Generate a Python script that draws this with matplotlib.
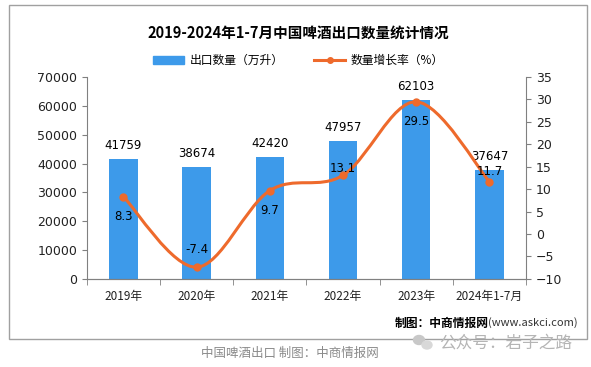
import matplotlib.pyplot as plt
from matplotlib.path import Path
from matplotlib.patches import PathPatch, Rectangle, Ellipse
from matplotlib.lines import Line2D

plt.rcParams['font.family'] = ['Noto Sans CJK SC', 'DejaVu Sans']

# 数据
years = ['2019年', '2020年', '2021年', '2022年', '2023年', '2024年1-7月']
volume = [41759, 38674, 42420, 47957, 62103, 37647]
growth = [8.3, -7.4, 9.7, 13.1, 29.5, 11.7]
# 增长率标签相对点的偏移 (像素, 正数向下)
label_shift = [20, -18, 20, -7, 20, -10]

bar_color = '#3D9AEA'
line_color = '#EE6A2C'
axis_color = '#808080'

fig = plt.figure(figsize=(5.91, 3.67), dpi=100)
ax = fig.add_axes([0.147, 0.240, 0.743, 0.550])
ax2 = ax.twinx()

x = list(range(len(years)))
ax.bar(x, volume, width=0.39, color=bar_color, zorder=2)
for xi, v in zip(x, volume):
    ax.annotate(str(v), (xi, v), xytext=(0, 5), textcoords='offset points',
                ha='center', va='bottom', fontsize=8.5, family='DejaVu Sans')

ax.set_xlim(-0.5, len(years) - 0.5)
ax.set_ylim(0, 70000)
ax.set_yticks(range(0, 70001, 10000))
ax2.set_ylim(-10, 35)
ax2.set_yticks(range(-10, 36, 5))

# 平滑曲线 (Catmull-Rom -> bezier)
pts = list(zip(x, growth))
verts = [pts[0]]
codes = [Path.MOVETO]
for i in range(len(pts) - 1):
    p0 = pts[i - 1] if i > 0 else pts[i]
    p1 = pts[i]
    p2 = pts[i + 1]
    p3 = pts[i + 2] if i + 2 < len(pts) else pts[i + 1]
    c1 = (p1[0] + (p2[0] - p0[0]) / 6, p1[1] + (p2[1] - p0[1]) / 6)
    c2 = (p2[0] - (p3[0] - p1[0]) / 6, p2[1] - (p3[1] - p1[1]) / 6)
    verts += [c1, c2, p2]
    codes += [Path.CURVE4] * 3
ax2.add_patch(PathPatch(Path(verts, codes), facecolor='none',
                        edgecolor=line_color, lw=2.2, zorder=3))
ax2.plot(x, growth, 'o', color=line_color, ms=5, zorder=4)
for xi, g, d in zip(x, growth, label_shift):
    ax2.annotate(f'{g:.1f}', (xi, g), xytext=(0, -d * 0.72), textcoords='offset points',
                 ha='center', va='center', fontsize=8.5, family='DejaVu Sans', zorder=5)

# 坐标轴样式
for a in (ax, ax2):
    a.spines['top'].set_visible(False)
    for s in ('left', 'right', 'bottom'):
        a.spines[s].set_color(axis_color)
    a.tick_params(colors=axis_color, labelcolor='#222222', labelsize=9)
ax.spines['right'].set_visible(False)
ax2.spines['left'].set_visible(False)
ax.set_xticks(x)
ax.set_xticklabels(years, fontsize=8.5)
ax.tick_params(axis='x', length=0, pad=8)
ax.set_xticks([i - 0.5 for i in range(len(years) + 1)], minor=True)
ax.tick_params(axis='x', which='minor', length=4, color=axis_color)
for lab in ax.get_yticklabels() + ax2.get_yticklabels():
    lab.set_family('DejaVu Sans')

# 标题与图例
fig.text(0.505, 0.912, '2019-2024年1-7月中国啤酒出口数量统计情况',
         ha='center', va='center', fontsize=10.5, fontweight='bold')
handles = [Rectangle((0, 0), 1, 1, color=bar_color),
           Line2D([0], [0], color=line_color, lw=2.2, marker='o', ms=4)]
fig.legend(handles, ['出口数量（万升）', '数量增长率（%）'], loc='center',
           bbox_to_anchor=(0.505, 0.835), ncol=2, frameon=False, fontsize=8.5,
           handlelength=2.6, columnspacing=2.6, handletextpad=0.5)

url = fig.text(0.978, 0.12, '(www.askci.com)', ha='right', va='center',
               fontsize=8, color='#333333')
ax.annotate('制图：中商情报网', xy=(0, 0.5), xycoords=url, ha='right', va='center',
            fontsize=8.5, fontweight='bold', annotation_clip=False)

# 外框
fig.add_artist(Rectangle((9 / 591, 1 - 339 / 367), 578 / 591, 334 / 367,
                         transform=fig.transFigure, fill=False,
                         edgecolor='#A0A0A0', lw=1))

fig.text(0.49, 0.038, '中国啤酒出口 制图：中商情报网', ha='center', va='center',
         fontsize=9, color='#8A8A8A')
# 公众号水印
fig.add_artist(Ellipse((419 / 591, 1 - 340 / 367), 11 / 591, 9 / 367,
                       transform=fig.transFigure, color='#C8C8C8'))
fig.add_artist(Ellipse((427 / 591, 1 - 345 / 367), 10 / 591, 8 / 367,
                       transform=fig.transFigure, color='#D8D8D8'))
fig.text(0.855, 0.065, '公众号：岩子之路', ha='center', va='center',
         fontsize=12, color='#B5B5B5')

fig.savefig('out.png', dpi=100)
